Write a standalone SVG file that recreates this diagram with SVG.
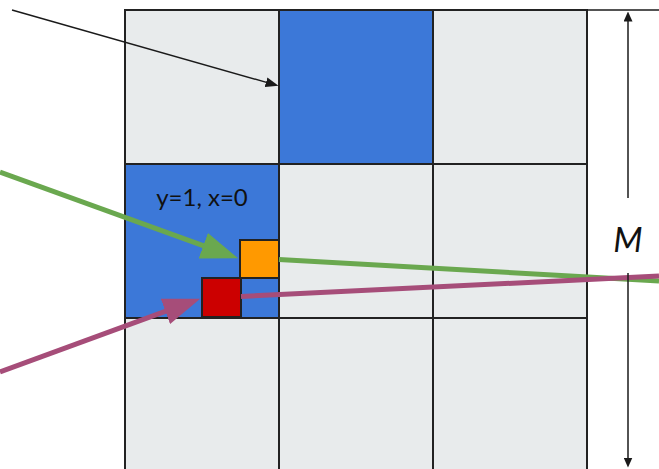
<svg xmlns="http://www.w3.org/2000/svg" width="659" height="469" viewBox="0 0 659 469">
<style>
.cell{fill:#e8ebec;stroke:#222;stroke-width:2}
.blue{fill:#3c78d8;stroke:#222;stroke-width:2}
.sq{stroke:#222;stroke-width:2}
.thin{stroke:#1a1a1a;stroke-width:1.5;fill:none}
.lbl{font-family:Lato,"Liberation Sans",sans-serif;fill:#111}
</style>
<defs>
<marker id="bigG" markerUnits="strokeWidth" markerWidth="7.4" markerHeight="5.4" refX="0.4" refY="2.7" orient="auto"><path d="M0,0 L7.4,2.7 L0,5.4 z" fill="#6aa84f"/></marker>
<marker id="bigM" markerUnits="strokeWidth" markerWidth="7.4" markerHeight="5.4" refX="0.4" refY="2.7" orient="auto"><path d="M0,0 L7.4,2.7 L0,5.4 z" fill="#a64d79"/></marker>
<marker id="blk" markerUnits="userSpaceOnUse" markerWidth="13" markerHeight="10" refX="0.5" refY="5" orient="auto"><path d="M0,0 L13,5 L0,10 z" fill="#1a1a1a"/></marker>
<marker id="dim" markerUnits="userSpaceOnUse" markerWidth="10" markerHeight="9" refX="0.5" refY="4.5" orient="auto"><path d="M0,0 L10,4.5 L0,9 z" fill="#1a1a1a"/></marker>
</defs>
<g id="grid">
<rect class="cell" x="125" y="10" width="154" height="154"/>
<rect class="blue" x="279" y="10" width="154" height="154"/>
<rect class="cell" x="433" y="10" width="154" height="154"/>
<rect class="blue" x="125" y="164" width="154" height="154"/>
<rect class="cell" x="279" y="164" width="154" height="154"/>
<rect class="cell" x="433" y="164" width="154" height="154"/>
<rect class="cell" x="125" y="318" width="154" height="160"/>
<rect class="cell" x="279" y="318" width="154" height="160"/>
<rect class="cell" x="433" y="318" width="154" height="160"/>
</g>
<g id="label-cell"><text class="lbl" x="202" y="206" font-size="24" text-anchor="middle">y=1, x=0</text></g>
<g id="orange"><rect class="sq" x="240" y="240" width="39" height="38" fill="#ff9900"/></g>
<g id="red"><rect class="sq" x="202" y="278" width="39" height="39" fill="#cc0000"/></g>
<g id="connectors">
<line class="thin" x1="12" y1="10" x2="266.5" y2="82.4" marker-end="url(#blk)"/>
<line x1="0" y1="172" x2="205.2" y2="246.4" stroke="#6aa84f" stroke-width="5" marker-end="url(#bigG)"/>
<line x1="279" y1="259.5" x2="659" y2="281" stroke="#6aa84f" stroke-width="5"/>
<line x1="0" y1="372" x2="167.3" y2="310.7" stroke="#a64d79" stroke-width="5" marker-end="url(#bigM)"/>
<line x1="241" y1="296.5" x2="659" y2="276" stroke="#a64d79" stroke-width="5"/>
</g>
<g id="dimension">
<line class="thin" x1="587" y1="10" x2="659" y2="10"/>
<line class="thin" x1="628" y1="198" x2="628" y2="21" marker-end="url(#dim)"/>
<line class="thin" x1="628" y1="273" x2="628" y2="458" marker-end="url(#dim)"/>
<text class="lbl" x="628" y="252" font-size="34" font-style="italic" text-anchor="middle">M</text>
</g>
</svg>
